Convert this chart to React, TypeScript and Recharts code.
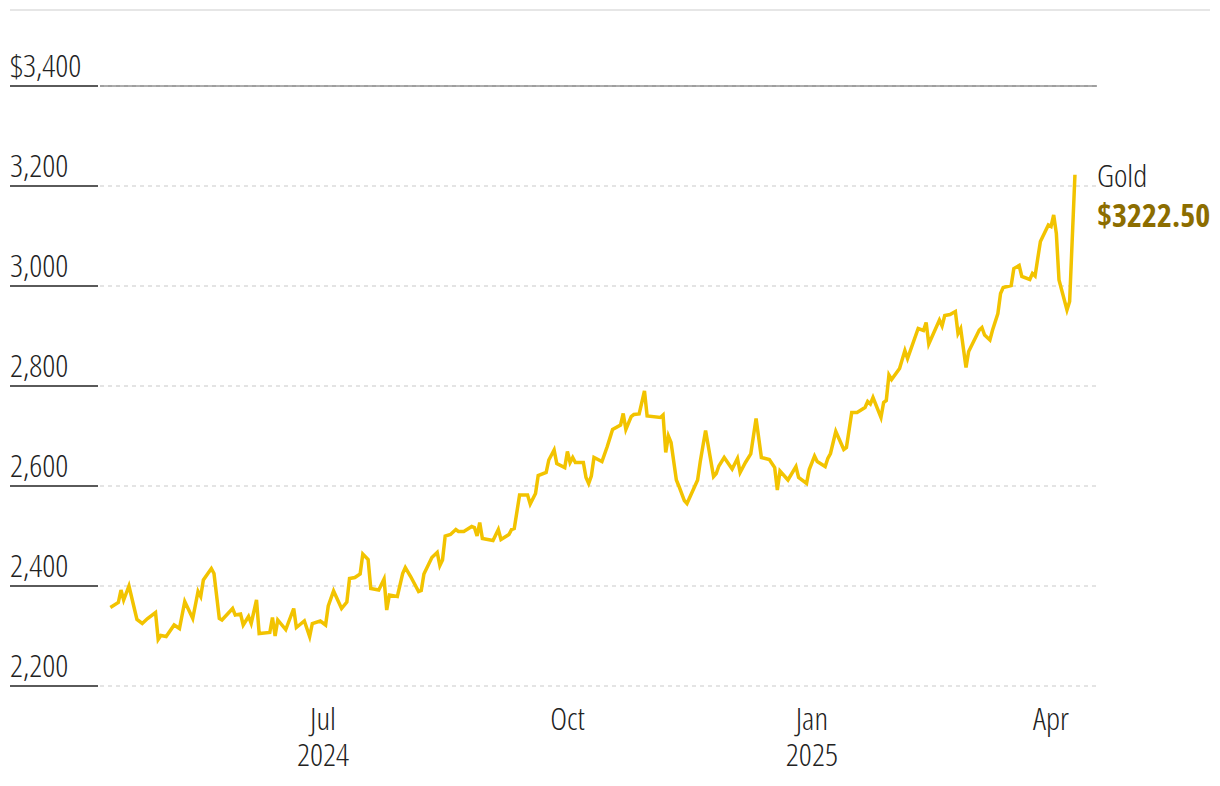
import { LineChart, Line, XAxis, YAxis, CartesianGrid, ReferenceLine } from "recharts"

// day number counted from 2024-04-11
const START = Date.UTC(2024, 3, 11)

const days = [
  1, 4, 5, 6, 8, 11, 13, 15, 18, 19,
  20, 22, 25, 27, 29, 32, 34, 35, 36, 39,
  40, 42, 43, 47, 48, 50, 51, 53, 54, 56,
  57, 61, 62, 63, 64, 67, 70, 71, 74, 76,
  77, 80, 82, 83, 85, 88, 90, 91, 93, 95,
  96, 98, 99, 102, 104, 105, 106, 109, 111, 112,
  114, 117, 118, 119, 122, 124, 125, 126, 127, 129,
  131, 132, 134, 137, 138, 139, 140, 141, 145, 147,
  148, 151, 152, 153, 155, 158, 159, 161, 162, 165,
  166, 168, 169, 172, 173, 174, 175, 176, 179, 180,
  181, 182, 183, 186, 188, 190, 193, 194, 195, 197,
  198, 200, 202, 203, 208, 209, 210, 211, 212, 214,
  215, 217, 218, 222, 223, 225, 228, 229, 230, 232,
  235, 237, 238, 240, 242, 244, 246, 249, 251, 252,
  253, 256, 259, 260, 263, 264, 266, 267, 270, 271,
  272, 274, 277, 278, 280, 282, 285, 286, 287, 288,
  291, 292, 293, 294, 295, 298, 300, 301, 305, 307,
  308, 309, 313, 314, 315, 317, 319, 320, 321, 323,
  324, 328, 329, 330, 332, 333, 335, 336, 337, 340,
  341, 343, 344, 347, 348, 349, 350, 351, 354, 355,
  356, 357, 358, 361, 362, 364,
]

const prices = [
  2357, 2367, 2392, 2372, 2400, 2333, 2325, 2335, 2347, 2293,
  2301, 2299, 2322, 2315, 2369, 2335, 2389, 2379, 2412, 2435,
  2425, 2335, 2332, 2355, 2342, 2344, 2322, 2339, 2325, 2372,
  2305, 2307, 2337, 2300, 2332, 2313, 2355, 2317, 2330, 2299,
  2325, 2330, 2322, 2360, 2390, 2355, 2368, 2415, 2417, 2424,
  2464, 2453, 2395, 2392, 2414, 2352, 2382, 2379, 2425, 2437,
  2419, 2389, 2391, 2424, 2457, 2467, 2441, 2452, 2500, 2503,
  2513, 2509, 2509, 2519, 2517, 2500, 2527, 2495, 2491, 2513,
  2493, 2503, 2513, 2515, 2582, 2582, 2564, 2585, 2621, 2627,
  2652, 2672, 2645, 2637, 2669, 2647, 2657, 2647, 2647, 2617,
  2605, 2620, 2657, 2649, 2679, 2713, 2722, 2745, 2713, 2739,
  2743, 2744, 2790, 2740, 2737, 2742, 2667, 2700, 2687, 2612,
  2599, 2571, 2565, 2612, 2649, 2711, 2619, 2625, 2640, 2657,
  2634, 2655, 2627, 2647, 2664, 2735, 2657, 2653, 2637, 2592,
  2630, 2612, 2639, 2617, 2605, 2633, 2660, 2649, 2639, 2655,
  2665, 2709, 2673, 2677, 2747, 2747, 2757, 2769, 2764, 2777,
  2737, 2767, 2771, 2822, 2813, 2835, 2871, 2855, 2915, 2911,
  2927, 2884, 2932, 2920, 2941, 2943, 2949, 2905, 2915, 2837,
  2869, 2912, 2917, 2902, 2892, 2912, 2945, 2985, 2997, 3001,
  3035, 3041, 3019, 3013, 3025, 3020, 3055, 3089, 3122, 3119,
  3142, 3105, 3012, 2952, 2969, 3222.5,
]

const tickDates = ["2024-07-01", "2024-10-01", "2025-01-01", "2025-04-01"]
const tickMonths = ["Jul", "Oct", "Jan", "Apr"]
const tickYears = ["2024", "", "2025", ""]
const yTicks = [2200, 2400, 2600, 2800, 3000, 3200, 3400]

const seriesName = "Gold"

const dayOf = (iso: string) => Math.round((Date.parse(iso) - START) / 86400000)
const xTicks = tickDates.map(dayOf)
const data = days.map((d, i) => ({ day: d, price: prices[i] }))

const FONT = "'Open Sans', 'DejaVu Sans', sans-serif"
const textStyle = { fontStretch: "75%" } as const
const LEFT = 10

function YTick(props: any) {
  const { y, payload } = props
  const v = payload.value as number
  const label = (v === 3400 ? "$" : "") + v.toLocaleString("en-US")
  return (
    <g>
      <line x1={LEFT} x2={LEFT + 88} y1={y} y2={y} stroke="#5a5a5a" strokeWidth={2} />
      <text x={LEFT} y={y - 9} fontSize={32} fontWeight={350} fill="#222" fontFamily={FONT} style={textStyle}>
        {label}
      </text>
    </g>
  )
}

function XTick(props: any) {
  const { x, y, payload } = props
  const i = xTicks.indexOf(payload.value)
  return (
    <text x={x} y={y + 44} textAnchor="middle" fontSize={32} fontWeight={350} fill="#222" fontFamily={FONT} style={textStyle}>
      <tspan x={x}>{tickMonths[i]}</tspan>
      {tickYears[i] ? <tspan x={x} dy={36}>{tickYears[i]}</tspan> : null}
    </text>
  )
}

function EndLabel(props: any) {
  const { x, y, index } = props
  if (index !== data.length - 1) return null
  return (
    <g>
      <text x={x + 22} y={y + 12} fontSize={32} fontWeight={350} fill="#222" fontFamily={FONT} style={textStyle}>
        {seriesName}
      </text>
      <text x={x + 22} y={y + 52} fontSize={32} fontWeight="bold" fill="#8c6d00" fontFamily={FONT} style={textStyle}>
        ${prices[prices.length - 1].toFixed(2)}
      </text>
    </g>
  )
}

export default function App() {
  return (
    <div style={{ position: "absolute", left: 0, top: 0, width: 1220, height: 786, background: "#fff" }}>
      <div style={{ position: "absolute", left: 10, top: 9, width: 1200, height: 2, background: "#e6e6e6" }} />
      <LineChart
        width={1220}
        height={786}
        data={data}
        margin={{ top: 86, right: 123, bottom: 0, left: LEFT }}
      >
        <CartesianGrid vertical={false} stroke="#dcdcdc" strokeDasharray="4 4" strokeWidth={1.5} />
        <ReferenceLine y={3400} stroke="#5a5a5a" strokeWidth={1} />
        <XAxis
          dataKey="day"
          type="number"
          domain={[-2.9, 372.3]}
          ticks={xTicks}
          tick={<XTick />}
          tickLine={false}
          axisLine={false}
          tickSize={0}
          tickMargin={0}
          height={100}
          interval={0}
        />
        <YAxis
          type="number"
          domain={[2200, 3400]}
          ticks={yTicks}
          tick={<YTick />}
          tickLine={false}
          axisLine={false}
          width={90}
          interval={0}
        />
        <Line
          type="linear"
          dataKey="price"
          stroke="#f2c300"
          strokeWidth={3.5}
          dot={false}
          isAnimationActive={false}
          label={<EndLabel />}
        />
      </LineChart>
    </div>
  )
}
